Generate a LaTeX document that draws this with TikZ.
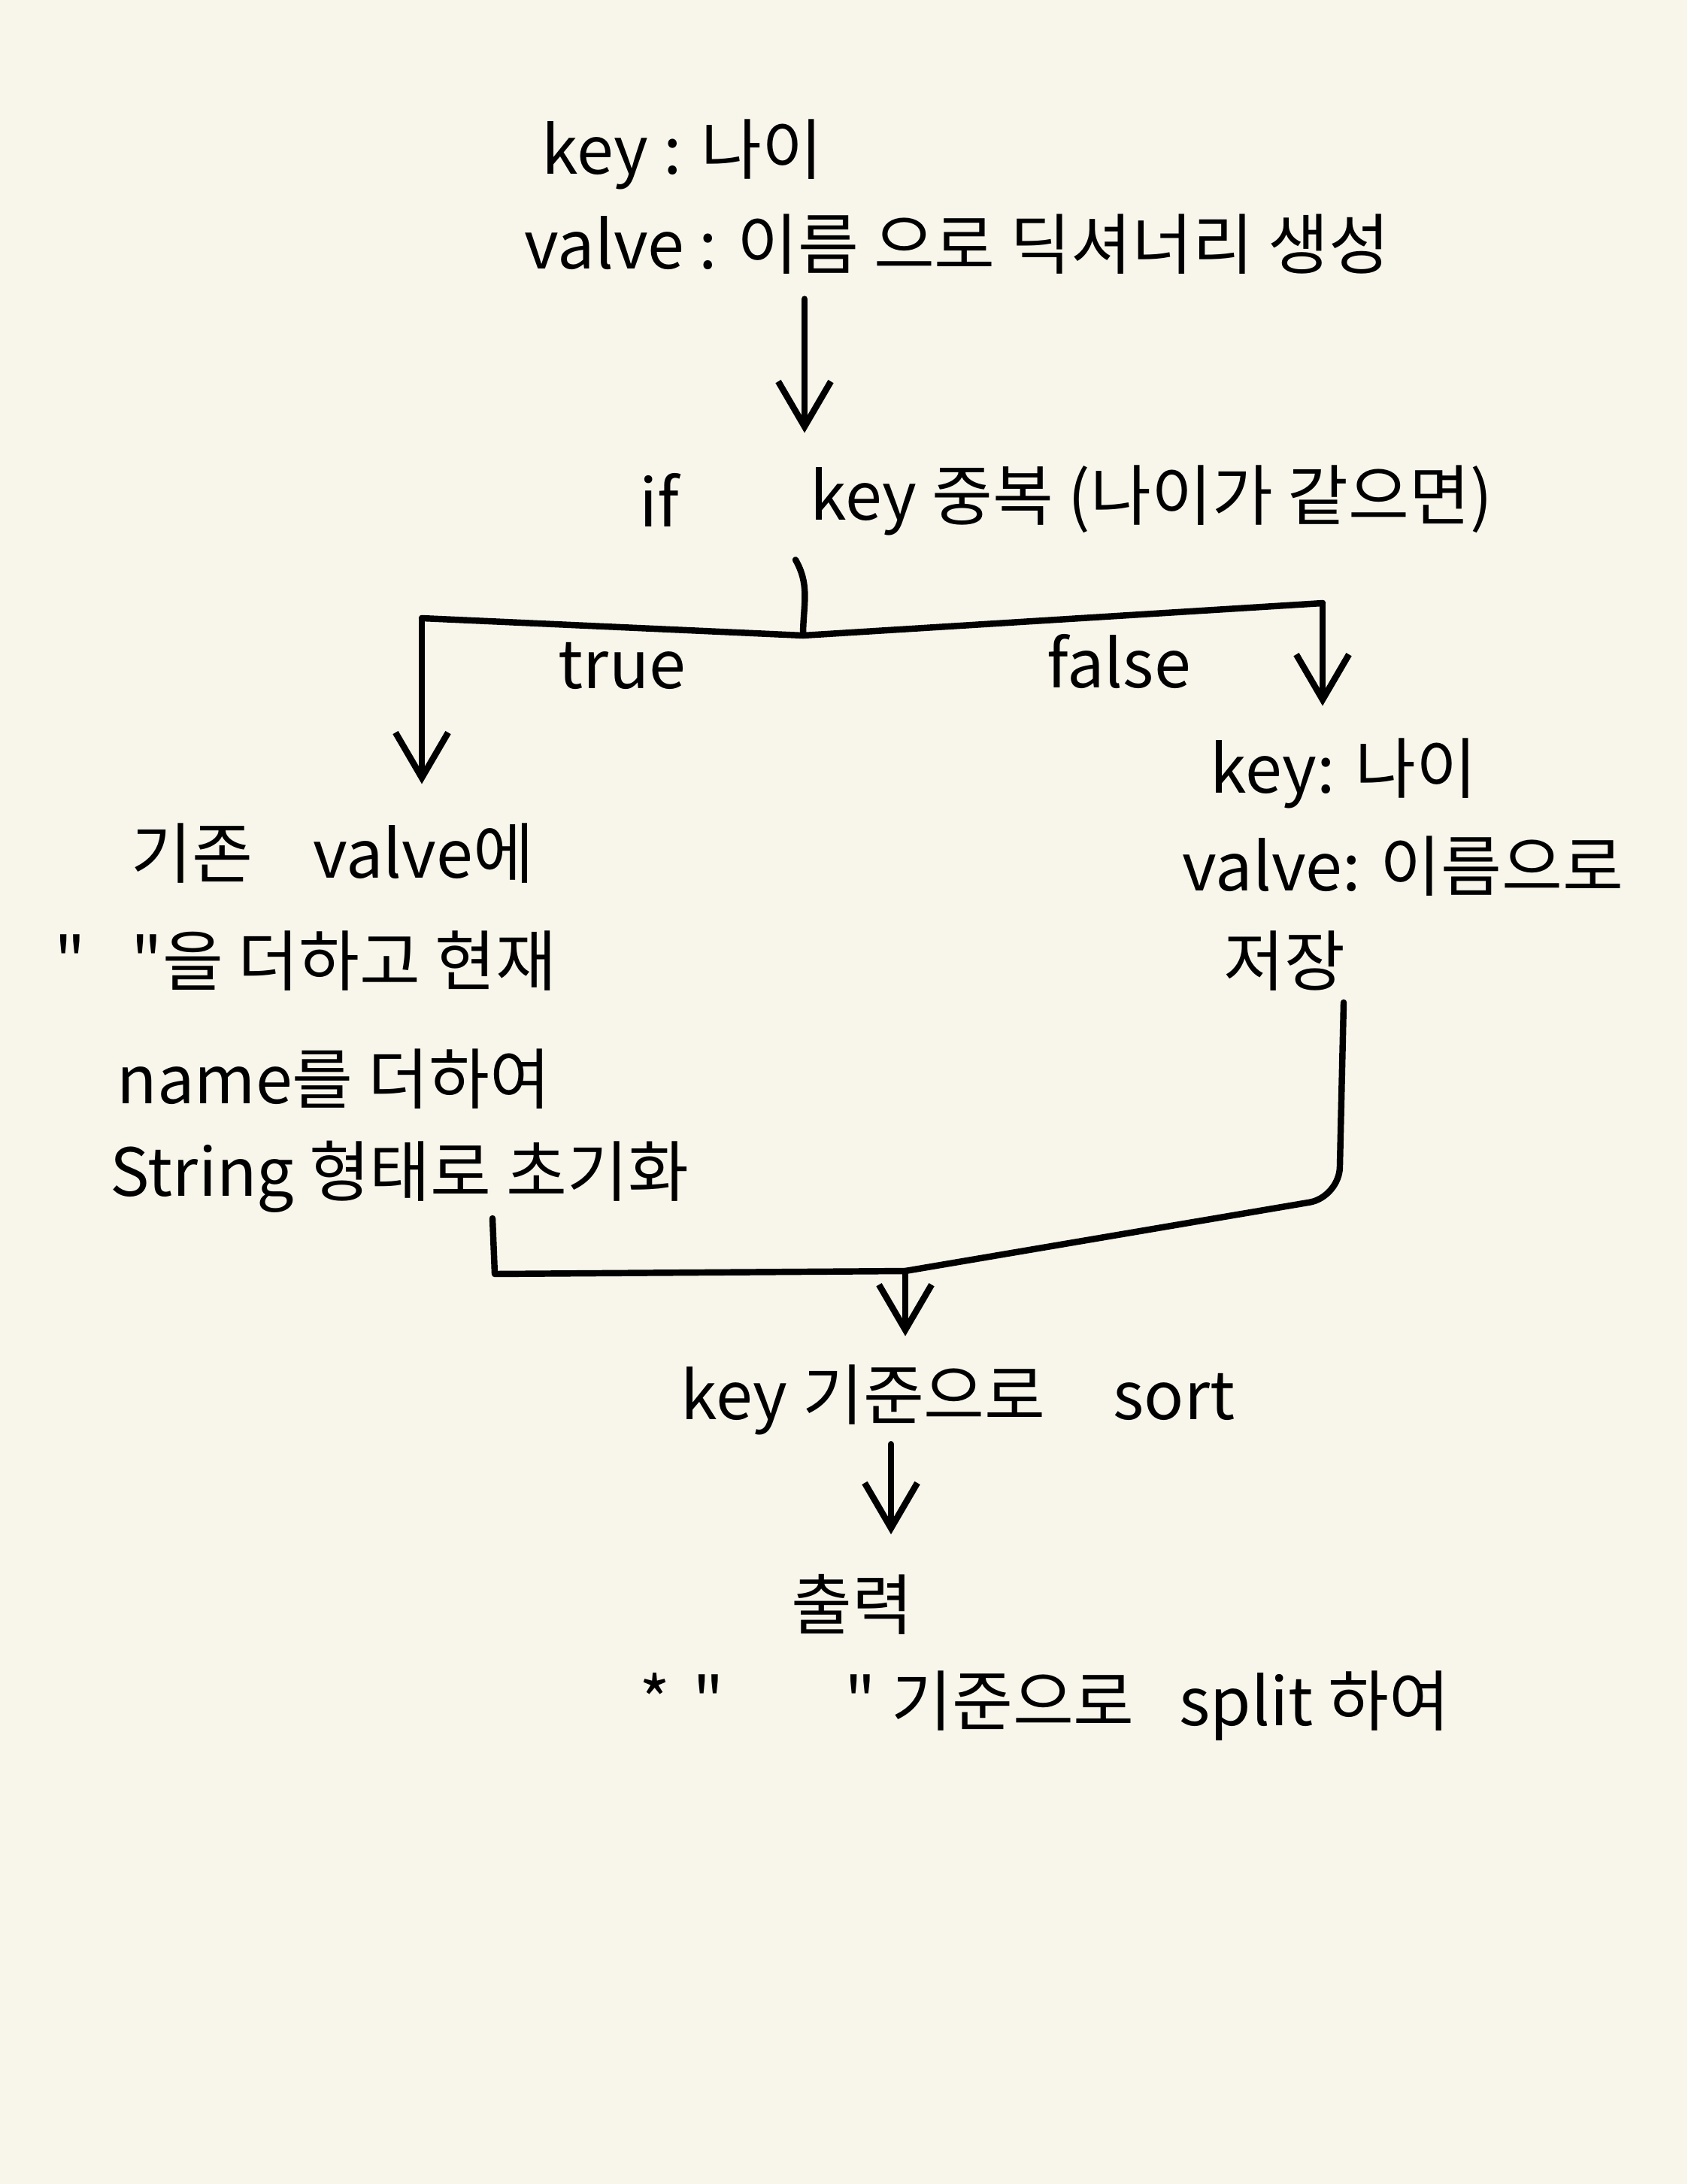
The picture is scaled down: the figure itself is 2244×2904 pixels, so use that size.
\documentclass[tikz,border=0pt]{standalone}
\usepackage{fontspec}
\setmainfont{Noto Sans CJK KR}[Ligatures=TeXOff]
\usetikzlibrary{calc, positioning}
\usetikzlibrary{arrows.meta}
\definecolor{paper}{RGB}{248,246,235}
\newcommand{\dq}{\symbol{34}}

\begin{document}
\begin{tikzpicture}[x=0.01cm,y=-0.01cm,
  txt/.style={font=\fontsize{25}{30}\selectfont, inner sep=2pt, anchor=west},
  flow/.style={line width=2.4pt, line cap=round, line join=round},
  arr/.style={flow, -{Straight Barb[length=6mm,width=7mm]}}]
\fill[paper] (0,0) rectangle (2244,2904);

% top block
\node[txt] (keyA) at (713,205) {key : 나이};
\node[txt] (valA) at (690,325) {valve : 이름 으로 딕셔너리 생성};

% condition
\node[txt] (ifA) at (843,665) {if};
\node[txt] (ifB) at (1070,665) {key 중복 (나이가 같으면)};

\coordinate (split) at (1068,845);
\coordinate (lcorner) at (561,822);
\coordinate (rcorner) at (1759,802);

% true side
\node[txt] (true1) at (167,1135) {기존\hspace{0.8cm}valve에};
\node[txt] (true2) at (65,1278) {\dq\hspace{0.6cm}\dq 을 더하고 현재};
\node[txt] (true3) at (148,1435) {name를 더하여};
\node[txt] (true4) at (139,1565) {String 형태로 초기화};

% false side
\node[txt] (false1) at (1602,1028) {key: 나이};
\node[txt] (false2) at (1565,1152) {valve: 이름으로};
\node[txt] (false3) at (1620,1278) {저장};

\node[txt] (tlbl) at (735,885) {true};
\node[txt] (flbl) at (1385,880) {false};

% after merge
\node[txt] (sortN) at (898,1861) {key 기준으로\hspace{0.9cm}sort};
\node[txt] (outN) at (1045,2133) {출력};
\node[txt] (noteN) at (843,2268) {*\hspace{0.3cm}\dq\hspace{1.6cm}\dq\hspace{0.2cm}기준으로\hspace{0.6cm}split 하여};

\coordinate (lstart) at (655,1620);
\coordinate (lbend) at (658,1694);
\coordinate (merge) at (1204,1690);
\coordinate (rstart) at (1787,1333);
\coordinate (rbend) at (1781,1592);

% connectors
\draw[arr, shorten <=0.25cm, shorten >=0.35cm] (valA.south -| ifB.west) -- (ifB.north west);
\draw[flow] (ifB.south west) ++(-12,25) coordinate (ifstub) to[out=-60,in=90] (split);
\draw[flow] (lcorner) -- (split) -- (rcorner);
\draw[arr, shorten >=0.45cm] (lcorner) -- (lcorner |- true1.north);
\draw[arr, shorten >=0.35cm] (rcorner) -- (rcorner |- false1.north);
\draw[flow] (lstart) -- (lbend) -- (merge);
\draw[flow, rounded corners=0.4cm] (rstart) -- (rbend) -- (merge);
\draw[arr, shorten >=0.3cm] (merge) -- (merge |- sortN.north);
\draw[arr, shorten <=0.35cm, shorten >=0.45cm] (outN.north -| 1185,0) ++(0,-200) -- (outN.north -| 1185,0);

\end{tikzpicture}
\end{document}
